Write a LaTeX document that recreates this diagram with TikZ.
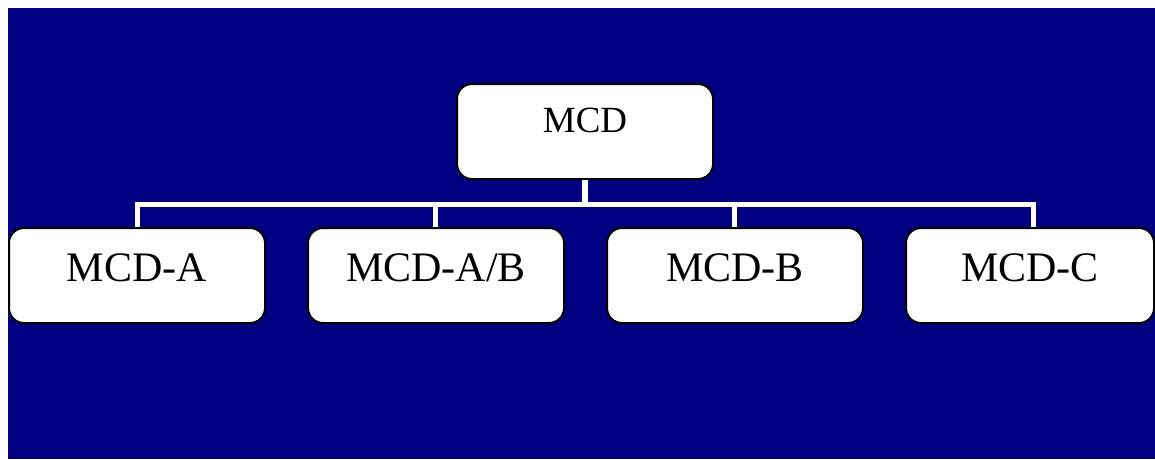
\documentclass[tikz,border=0pt]{standalone}
\usepackage{fontspec}
\setmainfont{Liberation Serif}
\definecolor{navybg}{RGB}{0,0,128}
\begin{document}
\begin{tikzpicture}[x=1pt,y=-1pt,
  box/.style={draw=black, line width=2pt, fill=white, rounded corners=15pt,
    minimum height=95pt, inner sep=0pt},
  toplbl/.style={anchor=base, inner sep=0pt, font=\fontsize{37}{40}\selectfont},
  lbl/.style={anchor=base, inner sep=0pt, font=\fontsize{42}{46}\selectfont},
  wire/.style={draw=white, line width=5pt, line join=miter}]
\useasboundingbox (0,0) rectangle (1155,459);
\fill[navybg] (8,8) rectangle (1155,459);

% boxes
\node[box, minimum width=256pt] (top) at (585,131.5) {};
\node[box, minimum width=256pt] (a)  at (137,275.5) {};
\node[box, minimum width=256pt] (ab) at (436,275.5) {};
\node[box, minimum width=256pt] (b)  at (735,275.5) {};
\node[box, minimum width=248pt] (c)  at (1030,275.5) {};

% labels
\node[toplbl] (ttop) at (585,132) {MCD};
\node[lbl] (ta)  at (137,281) {MCD-A};
\node[lbl] (tab) at (436,281) {MCD-A/B};
\node[lbl] (tb)  at (735,281) {MCD-B};
\node[lbl] (tc)  at (1030,281) {MCD-C};

% connector bus
\coordinate (bus) at (585,204);
\coordinate (aj) at (137,204);
\coordinate (abj) at (435,204);
\coordinate (bj) at (734,204);
\coordinate (cj) at (1033,204);
\coordinate (atop) at (137,227);
\coordinate (abtop) at (435,227);
\coordinate (btop) at (734,227);
\coordinate (ctop) at (1033,227);
\draw[wire] (atop) -- (aj) -- (cj) -- (ctop);
\draw[wire, line width=6pt] (top.south) -- (bus);
\draw[wire] (abtop) -- (abj);
\draw[wire] (btop) -- (bj);
\end{tikzpicture}
\end{document}
